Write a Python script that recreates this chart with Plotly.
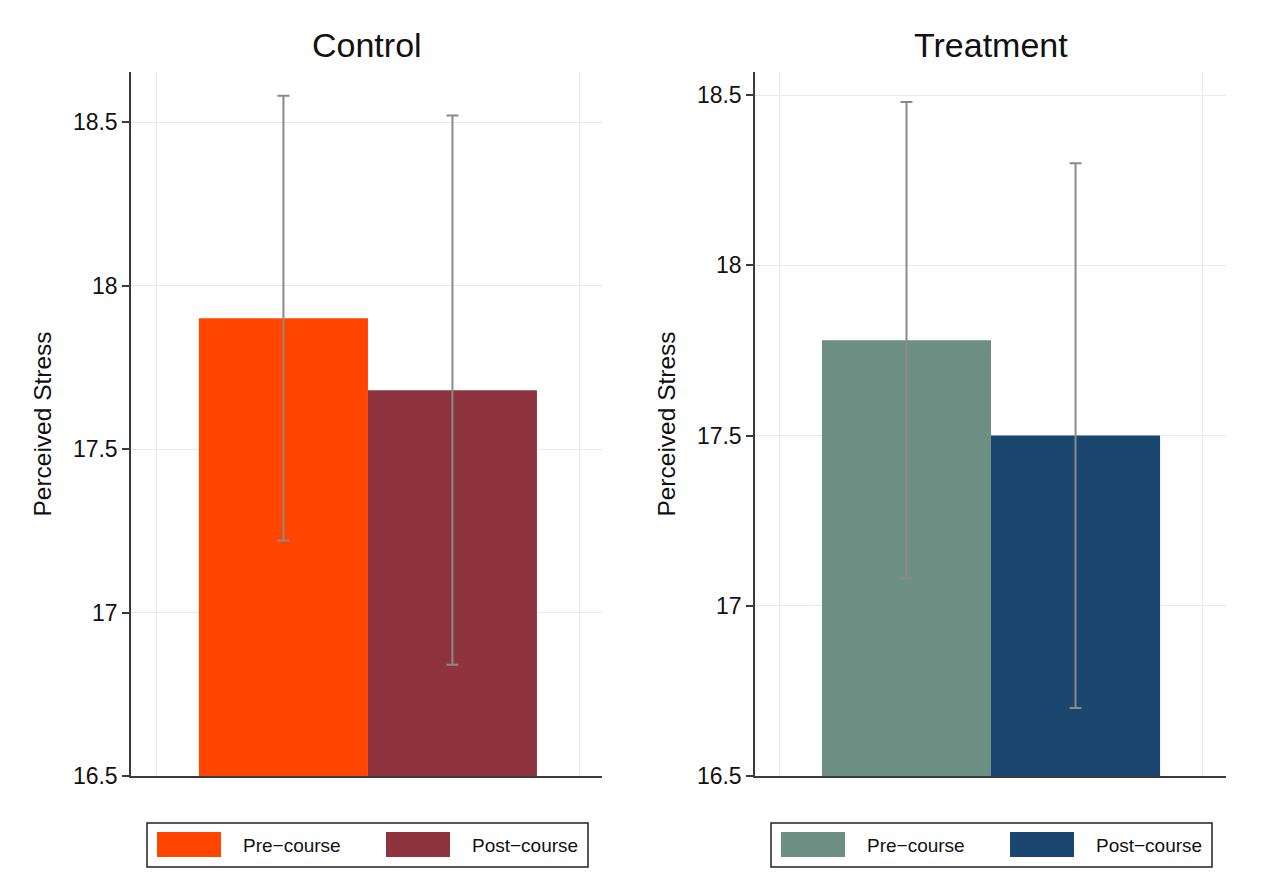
import plotly.graph_objects as go
from plotly.subplots import make_subplots

# Data
groups = ["Control", "Treatment"]
periods = ["Pre\u2212course", "Post\u2212course"]
control_means = [17.90, 17.68]
control_ci = [0.68, 0.84]
treatment_means = [17.78, 17.50]
treatment_ci = [0.70, 0.80]
y_ticks = [16.5, 17, 17.5, 18, 18.5]
y_tick_text = ["16.5", "17", "17.5", "18", "18.5"]

colors = {
    "Control": ["#FF4500", "#8F343F"],
    "Treatment": ["#6E8F83", "#1A466F"],
}

# page width, and the visible page height the figure gets in the browser
W, H = 1280, 881
FONT = "Liberation Sans, Arial, sans-serif"

fig = make_subplots(rows=1, cols=2)

panels = [
    ("Control", control_means, control_ci, [16.5, 18.653], [0.098, 2.885]),
    ("Treatment", treatment_means, treatment_ci, [16.5, 18.568], [0.104, 2.89]),
]
domains = [[131 / W, 602 / W], [755 / W, 1226 / W]]
y_dom = [1 - 776 / H, 1 - 72 / H]

for i, (grp, means, ci, yr, xr) in enumerate(panels):
    col = i + 1
    for j, per in enumerate(periods):
        fig.add_trace(go.Bar(
            x=[j + 1], y=[means[j]], width=1,
            name=per, showlegend=False,
            marker=dict(color=colors[grp][j], line=dict(width=0)),
            error_y=dict(type="data", array=[ci[j]], color="#8a8a8a",
                         thickness=2, width=6),
        ), row=1, col=col)

    fig.update_xaxes(domain=domains[i], range=xr, tickvals=[0.25, 2.75],
                     showticklabels=False, ticks="", showgrid=True,
                     gridcolor="#e9e9e9", gridwidth=1, zeroline=False,
                     showline=True, linecolor="#3a3a3a", linewidth=2,
                     row=1, col=col)
    fig.update_yaxes(domain=y_dom, range=yr, tickvals=y_ticks,
                     ticktext=y_tick_text, ticks="outside", ticklen=7,
                     tickwidth=1.5, tickcolor="#3a3a3a",
                     tickfont=dict(size=23, color="#111", family=FONT),
                     showgrid=True, gridcolor="#e9e9e9", gridwidth=1,
                     zeroline=False, showline=True, linecolor="#3a3a3a",
                     linewidth=1.5,
                     title=dict(text="Perceived Stress", standoff=14,
                                font=dict(size=24.5, color="#111", family=FONT)),
                     row=1, col=col)

    # panel title
    x_mid = (domains[i][0] + domains[i][1]) / 2
    fig.add_annotation(text=grp, x=x_mid, y=1 - 45 / H, xref="paper", yref="paper",
                       showarrow=False, xanchor="center", yanchor="middle",
                       font=dict(size=34, color="#111", family=FONT))

    # legend box below each panel
    left = domains[i][0] * W
    fig.add_shape(type="rect", xref="paper", yref="paper",
                  x0=(left + 16) / W, x1=(left + 457) / W,
                  y0=1 - 867 / H, y1=1 - 823 / H,
                  line=dict(color="#222", width=1.5), fillcolor="white")
    for j, per in enumerate(periods):
        sx = left + 26 + j * 229
        fig.add_shape(type="rect", xref="paper", yref="paper",
                      x0=sx / W, x1=(sx + 64) / W,
                      y0=1 - 857 / H, y1=1 - 832 / H,
                      line=dict(width=0), fillcolor=colors[grp][j])
        fig.add_annotation(text=per, x=(sx + 84) / W, y=1 - 845 / H,
                           xref="paper", yref="paper", showarrow=False,
                           xanchor="left", yanchor="middle",
                           font=dict(size=19, color="#111", family=FONT))

fig.update_layout(
    autosize=True,
    margin={"l": 0, "r": 0, "b": 0, "t": 0, "pad": 0},
    plot_bgcolor="white", paper_bgcolor="white",
    barmode="overlay",
    font=dict(family=FONT),
)

fig.write_html("out.html",
               default_width="100vw", default_height="100vh",
               config={"displayModeBar": False, "responsive": True},
               post_script="document.body.style.margin='0';"
                           "document.body.style.overflow='hidden';"
                           "document.documentElement.style.overflow='hidden';")
